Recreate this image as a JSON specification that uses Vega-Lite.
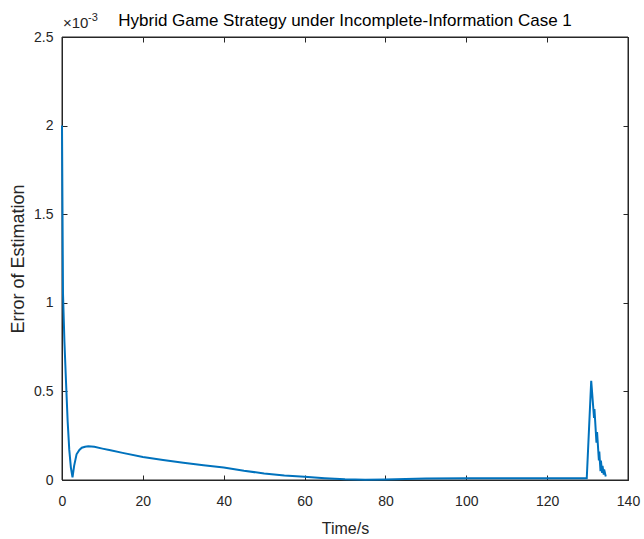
{
  "$schema": "https://vega.github.io/schema/vega-lite/v6.json",
  "width": 566,
  "height": 443,
  "autosize": {"type": "none"},
  "padding": {"left": 62, "top": 37, "right": 16, "bottom": 59},
  "background": "white",
  "title": {
    "text": "Hybrid Game Strategy under Incomplete-Information Case 1",
    "font": "Liberation Sans",
    "fontSize": 17,
    "fontWeight": "normal",
    "color": "#000000",
    "anchor": "middle",
    "baseline": "alphabetic",
    "offset": -31
  },
  "config": {
    "view": {"stroke": null},
    "axis": {
      "domainColor": "#262626",
      "tickColor": "#262626",
      "labelColor": "#262626",
      "titleColor": "#262626",
      "labelFont": "Liberation Sans",
      "titleFont": "Liberation Sans",
      "labelFontSize": 14,
      "titleFontSize": 16,
      "titleFontWeight": "normal",
      "labelFlush": false,
      "labelOverlap": false,
      "grid": false,
      "tickSize": -5
    }
  },
  "datasets": {
    "err": [
      {"t": 0, "e": 0.00200},
      {"t": 0.1, "e": 0.00160},
      {"t": 0.25, "e": 0.00105},
      {"t": 0.6, "e": 0.00078},
      {"t": 1.0, "e": 0.00055},
      {"t": 1.4, "e": 0.00033},
      {"t": 1.8, "e": 0.00017},
      {"t": 2.2, "e": 0.00007},
      {"t": 2.6, "e": 0.000015},
      {"t": 3.0, "e": 0.00008},
      {"t": 3.6, "e": 0.000145},
      {"t": 4.3, "e": 0.000170},
      {"t": 4.9, "e": 0.000182},
      {"t": 5.7, "e": 0.000188},
      {"t": 6.5, "e": 0.000190},
      {"t": 8, "e": 0.000187},
      {"t": 10, "e": 0.000177},
      {"t": 12, "e": 0.000168},
      {"t": 15, "e": 0.000153},
      {"t": 20, "e": 0.000130},
      {"t": 25, "e": 0.000113},
      {"t": 30, "e": 0.000097},
      {"t": 35, "e": 0.000083},
      {"t": 40, "e": 0.000070},
      {"t": 45, "e": 0.000052},
      {"t": 50, "e": 0.000037},
      {"t": 55, "e": 0.000026},
      {"t": 60, "e": 0.000018},
      {"t": 65, "e": 0.000010},
      {"t": 70, "e": 0.000004},
      {"t": 75, "e": 0.000001},
      {"t": 80, "e": 0.000003},
      {"t": 85, "e": 0.000006},
      {"t": 90, "e": 0.000008},
      {"t": 100, "e": 0.000010},
      {"t": 110, "e": 0.000010},
      {"t": 120, "e": 0.000010},
      {"t": 129.8, "e": 0.000010},
      {"t": 130.9, "e": 0.00056},
      {"t": 131.6, "e": 0.00035},
      {"t": 131.7, "e": 0.00040},
      {"t": 132.2, "e": 0.00021},
      {"t": 132.35, "e": 0.00027},
      {"t": 132.8, "e": 0.00011},
      {"t": 132.9, "e": 0.00016},
      {"t": 133.2, "e": 0.00005},
      {"t": 133.3, "e": 0.00011},
      {"t": 133.6, "e": 0.00004},
      {"t": 133.7, "e": 0.00008},
      {"t": 134.0, "e": 0.00003},
      {"t": 134.1, "e": 0.00006},
      {"t": 134.5, "e": 0.00002}
    ],
    "multiplier": [{"base": "×10", "exp": "-3"}]
  },
  "layer": [
    {
      "data": {"name": "multiplier"},
      "mark": {"type": "rect", "fill": null, "fillOpacity": 0, "stroke": "#262626", "strokeWidth": 1},
      "encoding": {
        "x": {"datum": 0, "type": "quantitative", "scale": {"domain": [0, 140], "nice": false}, "axis": null},
        "x2": {"datum": 140},
        "y": {"datum": 0, "type": "quantitative", "scale": {"domain": [0, 0.0025], "nice": false}, "axis": null},
        "y2": {"datum": 0.0025}
      }
    },
    {
      "data": {"name": "err"},
      "mark": {"type": "line", "color": "#0072BD", "strokeWidth": 2, "interpolate": "linear"},
      "encoding": {
        "x": {
          "field": "t", "type": "quantitative",
          "scale": {"domain": [0, 140], "nice": false},
          "axis": {"values": [0, 20, 40, 60, 80, 100, 120, 140], "title": "Time/s", "labelPadding": 19, "titlePadding": 12}
        },
        "y": {
          "field": "e", "type": "quantitative",
          "scale": {"domain": [0, 0.0025], "nice": false},
          "axis": {
            "values": [0, 0.0005, 0.001, 0.0015, 0.002, 0.0025],
            "labelExpr": "format(datum.value * 1000, '.1~f')",
            "title": "Error of Estimation",
            "titleFontSize": 18,
            "labelPadding": 14,
            "titlePadding": 6
          }
        }
      }
    },
    {
      "data": {"name": "err"},
      "mark": {"type": "point", "opacity": 0},
      "encoding": {
        "x": {
          "field": "t", "type": "quantitative",
          "scale": {"domain": [0, 140], "nice": false},
          "axis": {"orient": "top", "values": [0, 20, 40, 60, 80, 100, 120, 140], "labels": false, "title": null, "domainColor": "#262626", "tickColor": "#262626"}
        },
        "y": {
          "field": "e", "type": "quantitative",
          "scale": {"domain": [0, 0.0025], "nice": false},
          "axis": {"orient": "right", "values": [0, 0.0005, 0.001, 0.0015, 0.002, 0.0025], "labels": false, "title": null, "domainColor": "#262626", "tickColor": "#262626"}
        }
      }
    },
    {
      "data": {"name": "multiplier"},
      "mark": {"type": "text", "font": "Liberation Sans", "fontSize": 15, "color": "#262626", "align": "left", "baseline": "alphabetic", "dx": 1, "dy": -9},
      "encoding": {
        "x": {"datum": 0, "type": "quantitative", "scale": {"domain": [0, 140], "nice": false}, "axis": null},
        "y": {"datum": 0.0025, "type": "quantitative", "scale": {"domain": [0, 0.0025], "nice": false}, "axis": null},
        "text": {"field": "base"}
      }
    },
    {
      "data": {"name": "multiplier"},
      "mark": {"type": "text", "font": "Liberation Sans", "fontSize": 11, "color": "#262626", "align": "left", "baseline": "alphabetic", "dx": 26, "dy": -16},
      "encoding": {
        "x": {"datum": 0, "type": "quantitative", "scale": {"domain": [0, 140], "nice": false}, "axis": null},
        "y": {"datum": 0.0025, "type": "quantitative", "scale": {"domain": [0, 0.0025], "nice": false}, "axis": null},
        "text": {"field": "exp"}
      }
    }
  ],
  "resolve": {"scale": {"x": "independent", "y": "independent"}}
}
